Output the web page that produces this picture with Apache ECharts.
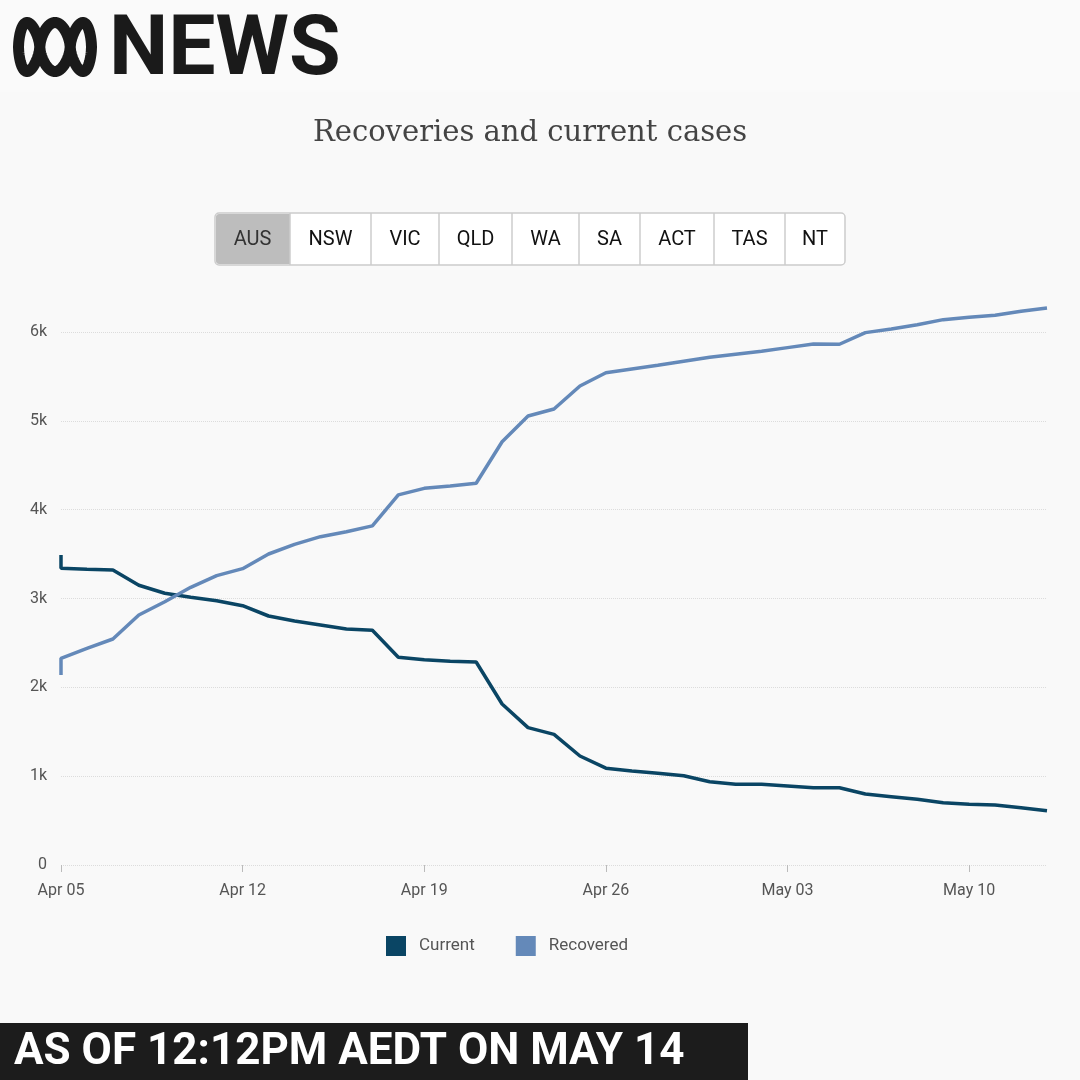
<!DOCTYPE html>
<html>
<head>
<meta charset="utf-8">
<script src="https://cdn.jsdelivr.net/npm/echarts@6/dist/echarts.min.js"></script>
<style>
  html, body { margin: 0; padding: 0; background: #f9f9f9; }
  #main { width: 1080px; height: 1080px; }
</style>
</head>
<body>
<div id="main"></div>
<script>
// 数据：日期（第一天有两个记录）
var dates = [
    '2020-04-05', '2020-04-05', '2020-04-06', '2020-04-07', '2020-04-08', '2020-04-09',
    '2020-04-10', '2020-04-11', '2020-04-12', '2020-04-13', '2020-04-14', '2020-04-15',
    '2020-04-16', '2020-04-17', '2020-04-18', '2020-04-19', '2020-04-20', '2020-04-21',
    '2020-04-22', '2020-04-23', '2020-04-24', '2020-04-25', '2020-04-26', '2020-04-27',
    '2020-04-28', '2020-04-29', '2020-04-30', '2020-05-01', '2020-05-02', '2020-05-03',
    '2020-05-04', '2020-05-05', '2020-05-06', '2020-05-07', '2020-05-08', '2020-05-09',
    '2020-05-10', '2020-05-11', '2020-05-12', '2020-05-13'
];
var current = [
    3490, 3340, 3329, 3321, 3149, 3059, 3014, 2975, 2919, 2803, 2747, 2702,
    2657, 2642, 2338, 2311, 2293, 2285, 1812, 1546, 1471, 1227, 1090, 1058,
    1032, 1005, 938, 908, 908, 889, 870, 870, 799, 769, 739, 701,
    683, 675, 645, 611
];
var recovered = [
    2140, 2327, 2439, 2544, 2814, 2964, 3126, 3257, 3336, 3501, 3610, 3696,
    3752, 3818, 4166, 4240, 4267, 4297, 4765, 5055, 5133, 5392, 5542, 5584,
    5625, 5670, 5715, 5749, 5783, 5824, 5865, 5862, 5993, 6034, 6082, 6139,
    6166, 6188, 6233, 6270
];
var seriesNames = ['Current', 'Recovered'];
var regions = ['AUS', 'NSW', 'VIC', 'QLD', 'WA', 'SA', 'ACT', 'TAS', 'NT'];
// x轴刻度（每周一个）
var tickDates = ['2020-04-05', '2020-04-12', '2020-04-19', '2020-04-26', '2020-05-03', '2020-05-10'];
var months = ['Jan', 'Feb', 'Mar', 'Apr', 'May', 'Jun', 'Jul', 'Aug', 'Sep', 'Oct', 'Nov', 'Dec'];

var DAY = 86400000;
var start = Date.parse(dates[0]);
function dayIndex(d) {
    return Math.round((Date.parse(d) - start) / DAY);
}
function pairs(values) {
    return values.map(function (v, i) { return [dayIndex(dates[i]), v]; });
}
function dayLabel(v) {
    var d = new Date(start + v * DAY);
    var day = d.getUTCDate();
    return months[d.getUTCMonth()] + ' ' + (day < 10 ? '0' + day : day);
}
var tickValues = tickDates.map(dayIndex);

// ABC 标志（Lissajous 形状）
function logoPoints() {
    var pts = [];
    var x0 = 18.5, w = 73, cy = 47, amp = 24.5;
    function xm(u) { return 0.5 * u + 0.25 * (1 - Math.cos(Math.PI * u)); }
    function ym(u) {
        var s = Math.sin(3 * Math.PI * u);
        return (s < 0 ? -1 : 1) * Math.pow(Math.abs(s), 0.6);
    }
    for (var i = 0; i <= 180; i++) {
        var u = i / 180;
        pts.push([x0 + w * xm(u), cy - amp * ym(u)]);
    }
    for (var j = 180; j >= 0; j--) {
        var u2 = j / 180;
        pts.push([x0 + w * xm(u2), cy + amp * ym(u2)]);
    }
    return pts;
}

// 按钮
var btnEdges = [215, 290, 371, 439, 512, 579, 640, 714, 785, 845];
var btnTop = 213, btnH = 52;
var graphics = [
    { type: 'rect', shape: { x: 0, y: 0, width: 1080, height: 92 }, style: { fill: '#fafafa' }, silent: true },
    { type: 'polyline', shape: { points: logoPoints() },
      style: { stroke: '#1a1a1a', lineWidth: 11, fill: null, lineJoin: 'round', lineCap: 'round' } },
    { type: 'text', left: 109, top: 11,
      style: { text: 'NEWS', fill: '#1a1a1a', font: 'bold 84px Roboto' } },
    { type: 'text', x: 530, y: 133,
      style: { text: 'Recoveries and current cases', fill: '#444444', font: '29px "DejaVu Serif"',
               textAlign: 'center', textVerticalAlign: 'middle' } },
    { type: 'rect', shape: { x: btnEdges[0], y: btnTop, width: btnEdges[9] - btnEdges[0], height: btnH, r: 4 },
      style: { fill: '#fff', stroke: '#cccccc', lineWidth: 1.5 } },
    { type: 'rect', shape: { x: btnEdges[0] + 1, y: btnTop + 1, width: btnEdges[1] - btnEdges[0] - 1, height: btnH - 2, r: [3, 0, 0, 3] },
      style: { fill: '#bdbdbd' } }
];
regions.forEach(function (name, i) {
    if (i > 0) {
        graphics.push({ type: 'line', shape: { x1: btnEdges[i], y1: btnTop, x2: btnEdges[i], y2: btnTop + btnH },
                        style: { stroke: '#cccccc', lineWidth: 1.5 } });
    }
    graphics.push({ type: 'text', x: (btnEdges[i] + btnEdges[i + 1]) / 2, y: btnTop + btnH / 2 + 1,
        style: { text: name, fill: i === 0 ? '#333' : '#111', font: '20px Roboto',
                 textAlign: 'center', textVerticalAlign: 'middle' } });
});
// 底部时间
graphics.push({ type: 'rect', shape: { x: 0, y: 1023, width: 748, height: 57 }, style: { fill: '#1c1c1c' } });
graphics.push({ type: 'text', x: 14, y: 1053,
    style: { text: 'AS OF 12:12PM AEDT ON MAY 14', fill: '#ffffff', font: 'bold 44px Roboto',
             textVerticalAlign: 'middle' } });

var myChart = echarts.init(document.getElementById('main'));
var option = {
    backgroundColor: '#f9f9f9',
    animation: false,
    color: ['#0a4564', '#6489b9'],
    graphic: { elements: graphics },
    legend: {
        data: seriesNames,
        left: 381,
        top: 931,
        icon: 'rect',
        itemWidth: 20,
        itemHeight: 20,
        itemGap: 41,
        textStyle: { color: '#555', fontSize: 17, fontFamily: 'Roboto', padding: [0, 0, 0, 8] }
    },
    grid: { left: 61, right: 33, top: 332, bottom: 215 },
    xAxis: {
        type: 'value',
        min: 0,
        max: 38,
        interval: 7,
        offset: 6,
        axisLine: { show: false },
        axisTick: { show: true, length: 7, lineStyle: { color: '#bbb' }, customValues: tickValues },
        splitLine: { show: false },
        axisLabel: { color: '#555', fontSize: 16, fontFamily: 'Roboto', margin: 12, formatter: dayLabel,
                     customValues: tickValues }
    },
    yAxis: {
        type: 'value',
        min: 0,
        max: 6000,
        interval: 1000,
        axisLine: { show: false },
        axisTick: { show: false },
        splitLine: { lineStyle: { color: '#dcdcdc', type: 'dotted', width: 1 } },
        axisLabel: {
            color: '#555', fontSize: 16, fontFamily: 'Roboto', margin: 14,
            formatter: function (v) { return v === 0 ? '0' : v / 1000 + 'k'; }
        }
    },
    series: [
        { name: seriesNames[0], type: 'line', data: pairs(current), showSymbol: false, clip: false,
          lineStyle: { width: 3.5 } },
        { name: seriesNames[1], type: 'line', data: pairs(recovered), showSymbol: false, clip: false,
          lineStyle: { width: 3.5 } }
    ]
};
myChart.setOption(option);
</script>
</body>
</html>
